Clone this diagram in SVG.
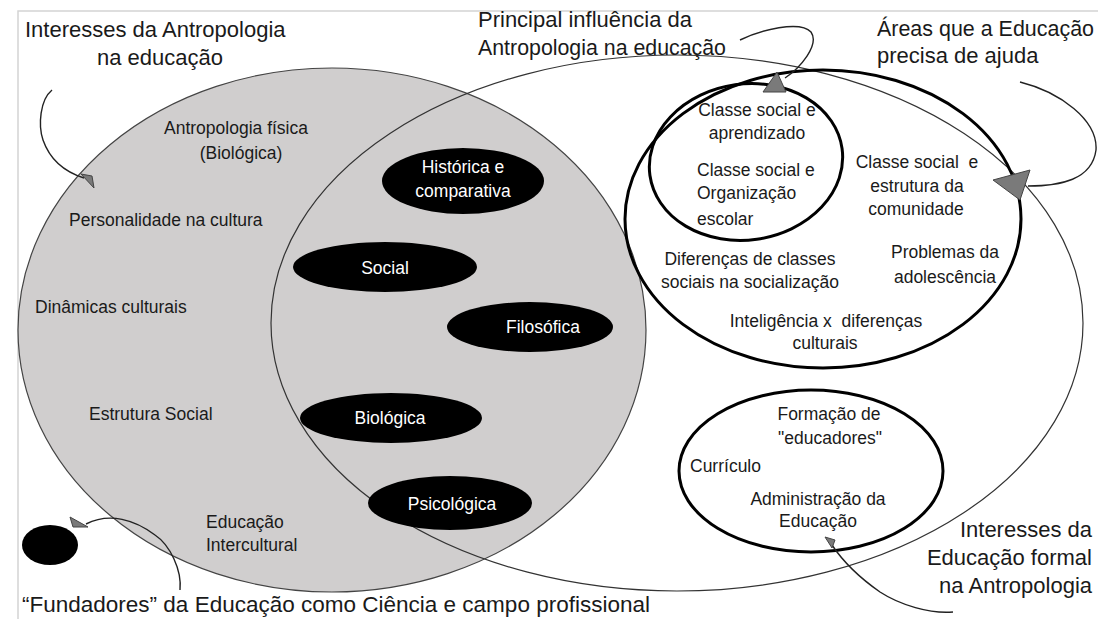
<svg xmlns="http://www.w3.org/2000/svg" width="1098" height="619" viewBox="0 0 1098 619">
<style>
.t{font-family:"Liberation Sans",Arial,sans-serif;font-size:17.5px;fill:#1a1a1a}
.h{font-family:"Liberation Sans",Arial,sans-serif;font-size:22px;fill:#1a1a1a}
.w{font-family:"Liberation Sans",Arial,sans-serif;font-size:17.5px;fill:#ffffff}
.c{text-anchor:middle}
.r{text-anchor:end}
.blk{fill:#000}
.thick{fill:none;stroke:#000;stroke-width:3}
.thin{fill:none;stroke:#333;stroke-width:1.2}
.conn{fill:none;stroke:#222;stroke-width:1.4}
.head{fill:#7a7a7a;stroke:#444;stroke-width:1}
</style>
<rect x="0" y="0" width="1098" height="619" fill="#fff"/>
<path d="M18,619 V11 H1098" fill="none" stroke="#d4d4d4" stroke-width="1.5"/>

<g id="antropologia">
<ellipse cx="332" cy="330" rx="314" ry="262" fill="#d0cece" stroke="#444" stroke-width="1.2"/>
<text class="t c" x="236" y="134">Antropologia física</text>
<text class="t c" x="241" y="159">(Biológica)</text>
<text class="t" x="69" y="226">Personalidade na cultura</text>
<text class="t" x="35" y="313">Dinâmicas culturais</text>
<text class="t" x="89" y="420">Estrutura Social</text>
<text class="t" x="206" y="528">Educação</text>
<text class="t" x="206" y="551">Intercultural</text>
</g>

<g id="educacao">
<ellipse class="thin" cx="677" cy="323" rx="406" ry="268"/>
</g>

<g id="historica">
<ellipse class="blk" cx="463" cy="181" rx="81" ry="33"/>
<text class="w c" x="463" y="173">Histórica e</text>
<text class="w c" x="463" y="197">comparativa</text>
</g>
<g id="social">
<ellipse class="blk" cx="385" cy="267" rx="92" ry="25"/>
<text class="w c" x="385" y="274">Social</text>
</g>
<g id="filosofica">
<ellipse class="blk" cx="530" cy="327" rx="83" ry="25"/>
<text class="w c" x="543" y="333">Filosófica</text>
</g>
<g id="biologica">
<ellipse class="blk" cx="391" cy="418" rx="91" ry="25"/>
<text class="w c" x="390" y="424">Biológica</text>
</g>
<g id="psicologica">
<ellipse class="blk" cx="450" cy="503" rx="82" ry="27"/>
<text class="w c" x="452" y="510">Psicológica</text>
</g>

<g id="areas">
<ellipse class="thick" cx="823" cy="219" rx="198" ry="149"/>
<text class="t c" x="917" y="168" xml:space="preserve">Classe social  e</text>
<text class="t c" x="917" y="192">estrutura da</text>
<text class="t c" x="916" y="215">comunidade</text>
<text class="t c" x="945" y="258">Problemas da</text>
<text class="t c" x="945" y="283">adolescência</text>
<text class="t c" x="750" y="265">Diferenças de classes</text>
<text class="t c" x="750" y="288">sociais na socialização</text>
<text class="t c" x="826" y="327" xml:space="preserve">Inteligência x  diferenças</text>
<text class="t c" x="825" y="349">culturais</text>
</g>

<g id="principal">
<ellipse class="thick" cx="746" cy="162" rx="97" ry="78" transform="rotate(-8 746 162)"/>
<text class="t c" x="757" y="116">Classe social e</text>
<text class="t c" x="757" y="139">aprendizado</text>
<text class="t" x="697" y="176">Classe social e</text>
<text class="t" x="697" y="199">Organização</text>
<text class="t" x="697" y="225">escolar</text>
</g>

<g id="formal">
<ellipse class="thick" cx="811" cy="471" rx="132" ry="81"/>
<text class="t c" x="829" y="420">Formação de</text>
<text class="t c" x="830" y="444">"educadores"</text>
<text class="t" x="690" y="472">Currículo</text>
<text class="t c" x="818" y="505">Administração da</text>
<text class="t c" x="818" y="527">Educação</text>
</g>

<g id="fundadores-ponto">
<ellipse class="blk" cx="50" cy="545" rx="28" ry="20"/>
</g>

<g id="titulos">
<text class="h" x="25" y="37">Interesses da Antropologia</text>
<text class="h c" x="160" y="65">na educação</text>
<text class="h" x="478" y="27">Principal influência da</text>
<text class="h" x="478" y="55" textLength="248" lengthAdjust="spacingAndGlyphs">Antropologia na educação</text>
<text class="h" x="877" y="36" textLength="217" lengthAdjust="spacingAndGlyphs">Áreas que a Educação</text>
<text class="h" x="877" y="63">precisa de ajuda</text>
<text class="h r" x="1092" y="537">Interesses da</text>
<text class="h r" x="1092" y="565">Educação formal</text>
<text class="h r" x="1092" y="593">na Antropologia</text>
<text class="h" x="22" y="612" textLength="628" lengthAdjust="spacingAndGlyphs">“Fundadores” da Educação como Ciência e campo profissional</text>
</g>

<g id="connectors">
<path class="conn" d="M52,90 C40,100 38,125 43,140 C50,160 65,172 84,178"/>
<polygon class="head" points="81,174 92,176 94,188"/>
<path class="conn" d="M740,40 C760,30 800,20 811,32 C820,45 800,68 785,78"/>
<polygon class="head" points="777,72 763,92 786,92"/>
<path class="conn" d="M1020,82 C1060,92 1098,120 1096,150 C1092,180 1060,186 1028,186"/>
<polygon class="head" points="993,180 1030,170 1020,200"/>
<path class="conn" d="M953,612 C930,614 900,605 880,592 C860,578 842,560 832,545"/>
<polygon class="head" points="825,537 835,540 832,548"/>
<path class="conn" d="M180,590 C182,570 170,545 155,535 C135,520 110,512 86,524"/>
<polygon class="head" points="70,517 73,527 88,527"/>
</g>
</svg>
